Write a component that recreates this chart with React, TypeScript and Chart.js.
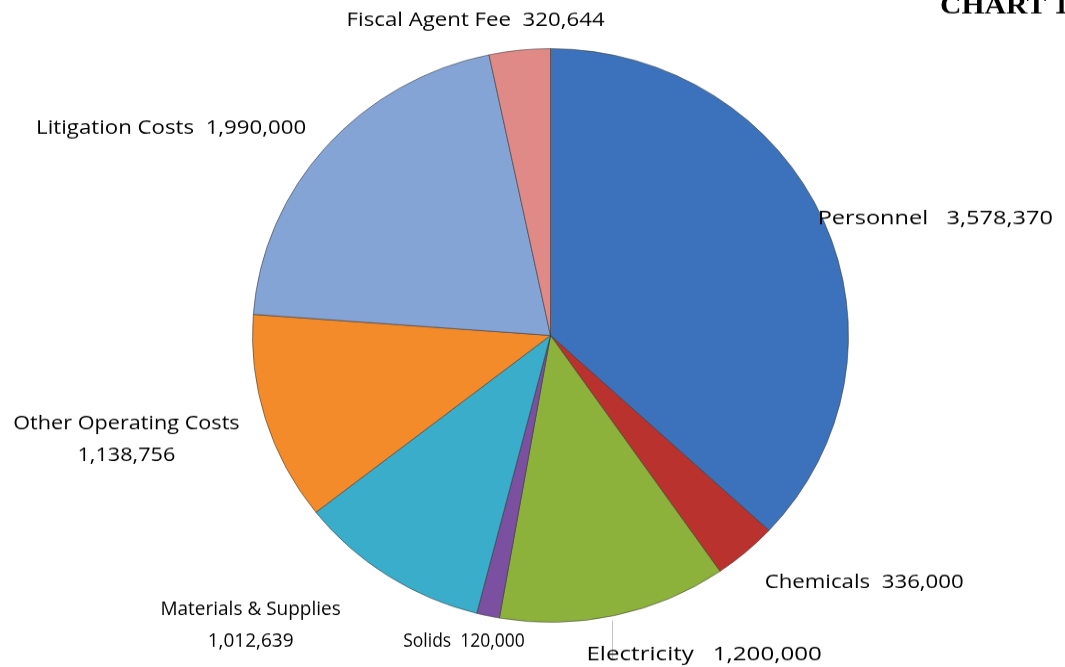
import React, { useEffect, useRef } from "react";
import { Chart, registerables } from "chart.js";

Chart.register(...registerables);

// ---- data ----
const categories = [
  "Personnel",
  "Chemicals",
  "Electricity",
  "Solids",
  "Materials & Supplies",
  "Other Operating Costs",
  "Litigation Costs",
  "Fiscal Agent Fee",
];
const amounts = [3578370, 336000, 1200000, 120000, 1012639, 1138756, 1990000, 320644];
const valueLabels = ["3,578,370", "336,000", "1,200,000", "120,000", "1,012,639", "1,138,756", "1,990,000", "320,644"];
const sliceColors = ["#3C72BB", "#BA322D", "#8DB23C", "#7B50A0", "#3AADCA", "#F48B2B", "#85A4D6", "#E08A88"];
const chartTitle = "CHART 1";

// ---- layout / style ----
const W = 1065;
const H = 667;
const IH = 693; // internal canvas height, squashed to H for the slightly elliptical pie
const K = H / IH;
const FONT = '19px "Open Sans", "Noto Sans", sans-serif';
const LINE_H = 32;

type LabelStyle = {
  align: CanvasTextAlign;
  dx: number;
  dy: number;
  twoLines: boolean;
  sx: number;
  gap: string;
  leader?: boolean;
};
const labelStyles: LabelStyle[] = [
  { align: "left", dx: -6, dy: -2, twoLines: false, sx: 1.24, gap: "   " },
  { align: "left", dx: 19, dy: 30, twoLines: false, sx: 1.17, gap: "  " },
  { align: "left", dx: -28, dy: 39, twoLines: false, sx: 1.27, gap: "   ", leader: true },
  { align: "center", dx: -24, dy: 26, twoLines: false, sx: 0.92, gap: "  " },
  { align: "center", dx: -137, dy: 50, twoLines: true, sx: 1.0, gap: "" },
  { align: "center", dx: -139, dy: 21, twoLines: true, sx: 1.14, gap: "" },
  { align: "right", dx: -20, dy: -18, twoLines: false, sx: 1.17, gap: "  " },
  { align: "center", dx: -44, dy: -30, twoLines: false, sx: 1.17, gap: "  " },
];

function drawText(ctx: CanvasRenderingContext2D, text: string, x: number, yDisp: number, sx: number) {
  ctx.save();
  ctx.translate(x, yDisp / K);
  ctx.scale(sx, 1 / K);
  ctx.fillText(text, 0, 0);
  ctx.restore();
}

const labelPlugin = {
  id: "sliceLabels",
  afterDraw(chart: any) {
    const ctx: CanvasRenderingContext2D = chart.ctx;
    const meta = chart.getDatasetMeta(0);
    meta.data.forEach((arc: any, i: number) => {
      const p = arc.getProps(["x", "y", "startAngle", "endAngle", "outerRadius"], true);
      const a = (p.startAngle + p.endAngle) / 2;
      const ex = p.x + p.outerRadius * Math.cos(a);
      const ey = (p.y + p.outerRadius * Math.sin(a)) * K;
      const st = labelStyles[i];
      const lx = ex + st.dx;
      const ly = ey + st.dy;
      const lines = st.twoLines ? [categories[i], valueLabels[i]] : [`${categories[i]}${st.gap}${valueLabels[i]}`];
      if (st.leader) {
        ctx.save();
        ctx.strokeStyle = "#c8c8c8";
        ctx.lineWidth = 1;
        ctx.beginPath();
        ctx.moveTo(Math.round(ex) - 1.5, (ey + 5) / K);
        ctx.lineTo(Math.round(ex) - 1.5, (ey + 45) / K);
        ctx.stroke();
        ctx.restore();
      }
      ctx.save();
      ctx.font = FONT;
      ctx.fillStyle = "#000";
      ctx.textAlign = st.align;
      ctx.textBaseline = "middle";
      lines.forEach((t, j) => {
        const yy = ly + (j - (lines.length - 1) / 2) * LINE_H;
        drawText(ctx, t, lx, yy, st.sx);
      });
      ctx.restore();
    });
    ctx.save();
    ctx.font = 'bold 27px "Liberation Serif", "Times New Roman", serif';
    ctx.fillStyle = "#000";
    ctx.textAlign = "left";
    ctx.textBaseline = "alphabetic";
    drawText(ctx, chartTitle, 940, 13, 1.1);
    ctx.restore();
  },
};

export default function App() {
  const ref = useRef<HTMLCanvasElement>(null);
  useEffect(() => {
    document.body.style.margin = "0";
    const chart = new Chart(ref.current!, {
      type: "pie",
      data: {
        labels: categories,
        datasets: [
          {
            data: amounts,
            backgroundColor: sliceColors,
            borderColor: "rgba(50,50,50,0.55)",
            borderWidth: 1,
          },
        ],
      },
      options: {
        responsive: false,
        animation: false,
        layout: { padding: { top: 50, bottom: 46, left: 252, right: 216 } },
        plugins: { legend: { display: false }, tooltip: { enabled: false } },
      },
      plugins: [labelPlugin],
    });
    return () => chart.destroy();
  }, []);
  return (
    <div style={{ position: "fixed", left: 0, top: 0, width: W, height: H, overflow: "hidden", background: "#fff" }}>
      <div style={{ transform: `scaleY(${K})`, transformOrigin: "0 0" }}>
        <canvas ref={ref} width={W} height={IH} style={{ display: "block", width: W, height: IH }} />
      </div>
    </div>
  );
}
